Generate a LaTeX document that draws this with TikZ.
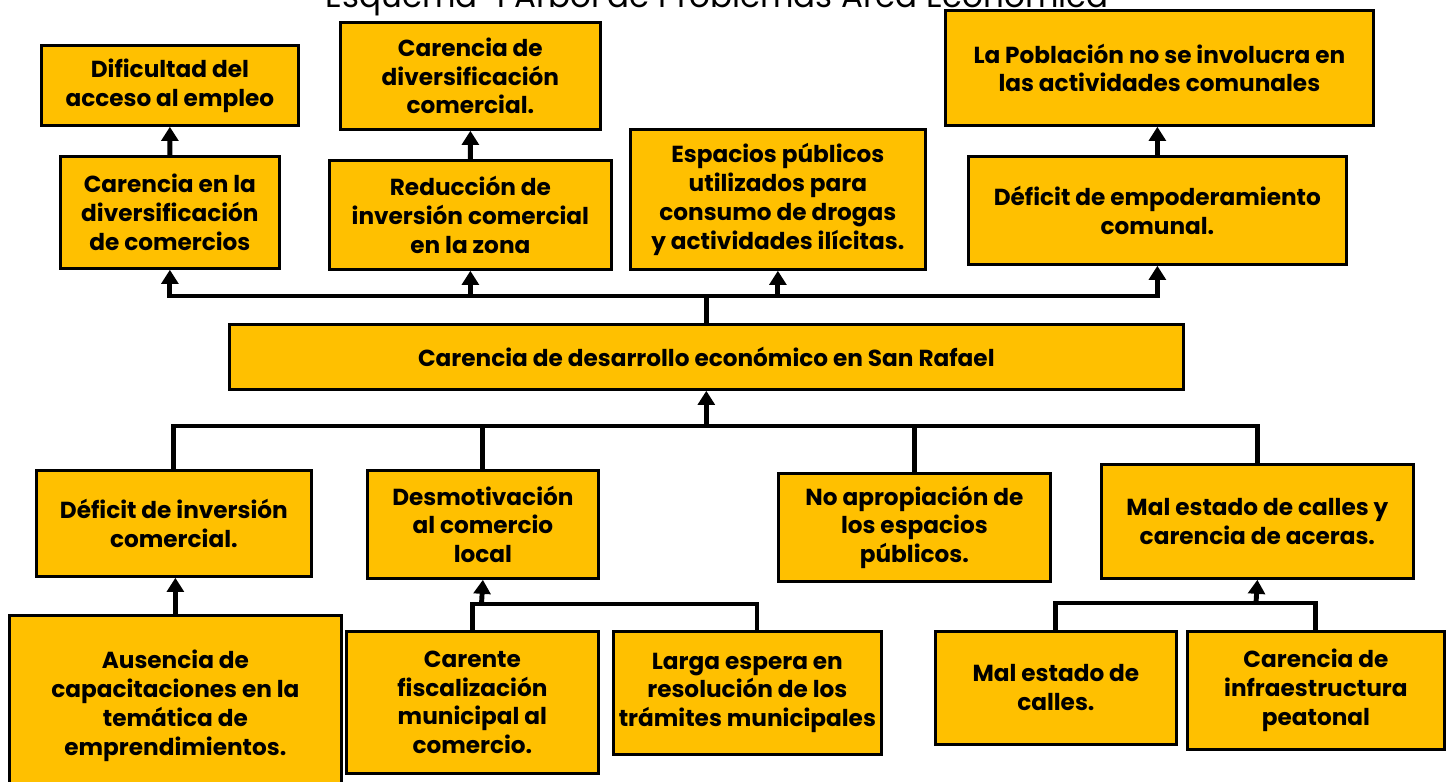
\documentclass[tikz,border=0pt]{standalone}
\usepackage{fontspec}
\setmainfont{Poppins}
\usetikzlibrary{arrows.meta}
\usetikzlibrary{positioning}
\definecolor{oro}{HTML}{FFC000}
\tikzset{>={Triangle[width=9.5pt,length=8pt]},
  caja/.style={draw=black, line width=1.6pt, fill=oro, align=center,
    anchor=north west, inner sep=2pt,
    font=\fontsize{13.2}{16.4}\selectfont\bfseries},
  linea/.style={line width=2.8pt},
  flecha/.style={line width=2.8pt, ->}}

\begin{document}
\begin{tikzpicture}[x=0.02cm, y=-0.02cm]

    \useasboundingbox (0,0) rectangle (1449,781);

    % titulo (cortado arriba)
    \node[font=\fontsize{18.5}{22}\selectfont, anchor=base] (titulo) at (717,8)
        {Esquema \ 1 Árbol de Problemas Área Económica};

    % efectos
    \node[caja, minimum width=5.14cm, minimum height=1.6cm] (dif) at (40,44)
        {Dificultad del\\acceso al empleo};
    \node[caja, minimum width=4.38cm, minimum height=2.24cm] (carDiv) at (59,155)
        {Carencia en la\\diversificación\\de comercios};
    \node[caja, minimum width=5.2cm, minimum height=2.14cm] (carDivCom) at (339,21)
        {Carencia de\\diversificación\\comercial.};
    \node[caja, minimum width=5.64cm, minimum height=2.18cm] (redInv) at (328,159)
        {Reducción de\\inversión comercial\\en la zona};
    \node[caja, minimum width=5.9cm, minimum height=2.8cm] (espacios) at (629,128)
        {Espacios públicos\\utilizados para\\consumo de drogas\\y actividades ilícitas.};
    \node[caja, minimum width=8.56cm, minimum height=2.3cm] (poblacion) at (944,9)
        {La Población no se involucra en\\las actividades comunales};
    \node[caja, minimum width=7.56cm, minimum height=2.16cm] (defEmp) at (967,155)
        {Déficit de empoderamiento\\comunal.};

    % problema central
    \node[caja, minimum width=19.08cm, minimum height=1.3cm] (central) at (228,323)
        {Carencia de desarrollo económico en San Rafael};

    % causas
    \node[caja, minimum width=5.5cm, minimum height=2.12cm] (defInv) at (35,469)
        {Déficit de inversión\\comercial.};
    \node[caja, minimum width=4.62cm, minimum height=2.16cm] (desmot) at (366,469)
        {Desmotivación\\al comercio\\local};
    \node[caja, minimum width=5.44cm, minimum height=2.16cm] (noApro) at (777,472)
        {No apropiación de\\los espacios\\públicos.};
    \node[caja, minimum width=6.24cm, minimum height=2.28cm] (malEstado) at (1100,463)
        {Mal estado de calles y\\carencia de aceras.};

    \node[caja, minimum width=6.64cm, minimum height=3.62cm] (ausencia) at (8,614)
        {Ausencia de\\capacitaciones en la\\temática de\\emprendimientos.};
    \node[caja, minimum width=5.04cm, minimum height=2.84cm] (carente) at (345,630)
        {Carente\\fiscalización\\municipal al\\comercio.};
    \node[caja, minimum width=5.36cm, minimum height=2.46cm] (larga) at (612,630)
        {Larga espera en\\resolución de los\\trámites municipales};
    \node[caja, minimum width=4.82cm, minimum height=2.26cm] (malCalles) at (934,630)
        {Mal estado de\\calles.};
    \node[caja, minimum width=5.14cm, minimum height=2.36cm] (infra) at (1186,630)
        {Carencia de\\infraestructura\\peatonal};

    % conectores
    \coordinate (hA) at (0,296);
    \coordinate (hB) at (0,426);
    \coordinate (busA) at (central.north |- hA);
    \coordinate (busB) at (central.south |- hB);
    \coordinate (busC) at (481.5,604);
    \coordinate (busC2) at (757,604);
    \coordinate (busD) at (1256,603);

    \draw[flecha] (carDiv.north) -- (dif.south);
    \draw[flecha] (redInv.north) -- (carDivCom.south);
    \draw[flecha] (defEmp.north) -- (defEmp.north |- poblacion.south);

    \draw[linea] (central.north) -- (busA);
    \draw[flecha] (busA) -| (carDiv.south);
    \draw[flecha] (busA) -| (redInv.south);
    \draw[flecha] (busA) -| (espacios.south);
    \draw[flecha] (busA) -| (defEmp.south);

    \draw[flecha] (busB) -- (central.south);
    \draw[linea] (busB) -| (defInv.north);
    \draw[linea] (busB) -| (desmot.north);
    \draw[linea] (busB) -| (noApro.north);
    \draw[linea] (busB) -| (malEstado.north);

    \draw[flecha] (ausencia.north) -- (ausencia.north |- defInv.south);

    \draw[linea] (carente.north) |- (busC2) -- (busC2 |- larga.north);
    \draw[flecha] (busC) -- (desmot.south);

    \draw[linea] (malCalles.north) |- (busD) -| (infra.north);
    \draw[flecha] (busD) -- (malEstado.south);

\end{tikzpicture}
\end{document}
